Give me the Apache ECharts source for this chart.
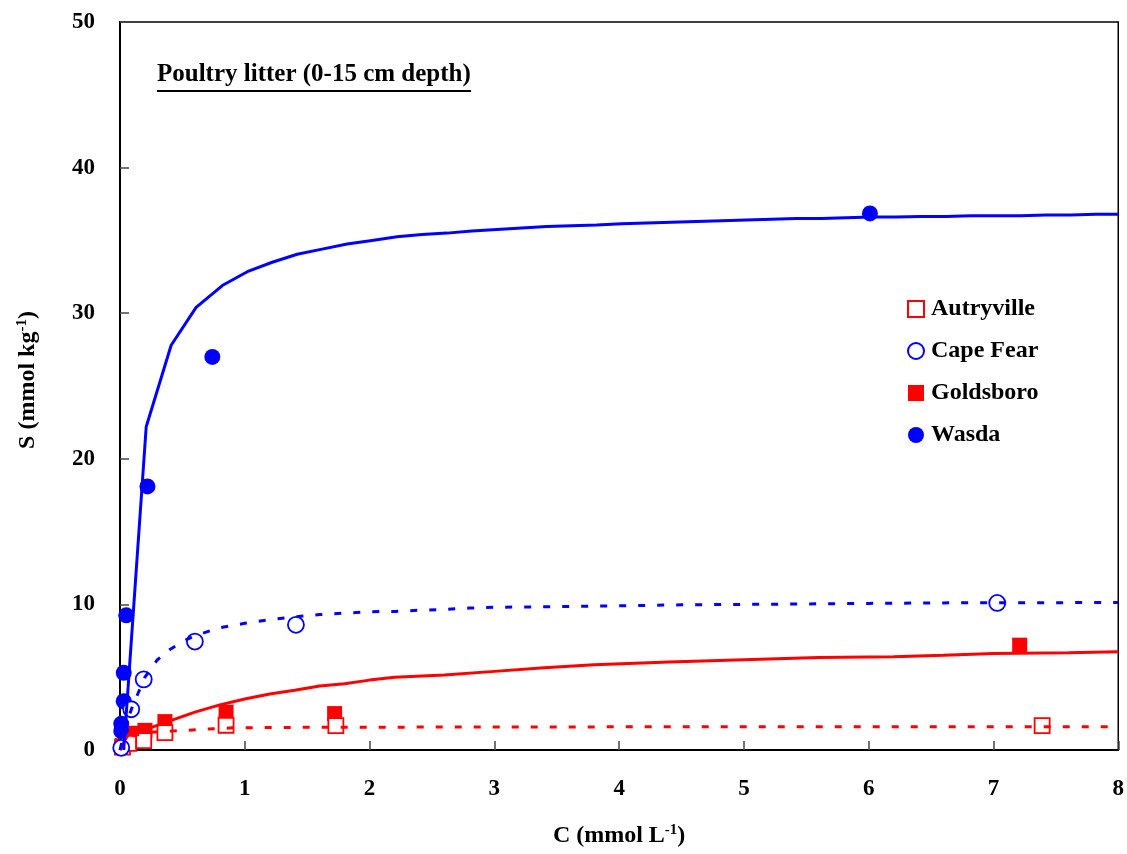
<!DOCTYPE html>
<html>
<head>
<meta charset="utf-8">
<script src="https://cdn.jsdelivr.net/npm/echarts@6/dist/echarts.min.js"></script>
<style>html,body{margin:0;padding:0;background:#fff}#c{width:1127px;height:854px}</style>
</head>
<body>
<div id="c"></div>
<script>
// Observed points [C, S]
const autryvillePts = [[0.02,0.2],[0.07,0.45],[0.19,0.65],[0.36,1.2],[0.85,1.7],[1.73,1.67],[7.39,1.67]];
const capeFearPts = [[0.01,0.15],[0.09,2.8],[0.19,4.85],[0.6,7.45],[1.41,8.6],[7.03,10.1]];
const goldsboroPts = [[0.02,0.3],[0.05,0.7],[0.12,1.15],[0.2,1.35],[0.36,1.95],[0.85,2.6],[1.72,2.5],[7.21,7.2]];
const wasdaPts = [[0.01,1.3],[0.01,1.8],[0.03,3.35],[0.03,5.3],[0.05,9.25],[0.22,18.1],[0.74,27.0],[6.01,36.85]];

// Fitted curves [C, S]
const autryvilleFit = [[0,0],[0.04,0.6],[0.1,0.95],[0.2,1.2],[0.35,1.28],[0.5,1.33],[0.65,1.42],[0.9,1.52],[1.5,1.56],[3,1.58],[5,1.6],[8,1.6]];
const capeFearFit = [[0,0],[0.05,1.8],[0.1,3.0],[0.15,4.0],[0.2,5.0],[0.3,6.2],[0.4,6.9],[0.5,7.45],[0.6,7.85],[0.8,8.4],[1.0,8.7],[1.2,8.95],[1.4,9.15],[1.6,9.3],[1.8,9.4],[2.0,9.5],[2.2,9.52],[2.4,9.6],[2.6,9.65],[2.8,9.75],[3.0,9.8],[3.5,9.85],[4.0,9.9],[4.5,9.97],[5.0,10.0],[5.5,10.03],[6.0,10.07],[6.5,10.1],[7.0,10.12],[7.5,10.12],[8.0,10.13]];
const goldsboroFit = [[0,0],[0.04,0.7],[0.08,1.2],[0.27,1.6],[0.4,2.0],[0.6,2.6],[0.8,3.1],[1.0,3.5],[1.2,3.85],[1.4,4.1],[1.6,4.4],[1.8,4.55],[2.0,4.8],[2.2,5.0],[2.6,5.15],[3.0,5.4],[3.4,5.65],[3.8,5.85],[4.4,6.05],[5.0,6.2],[5.6,6.35],[6.2,6.4],[6.6,6.5],[7.0,6.62],[7.6,6.68],[8.0,6.75]];
const wasdaFit = [[0.03,0],[0.21,22.2],[0.41,27.8],[0.61,30.4],[0.82,31.9],[1.02,32.85],[1.22,33.5],[1.42,34.05],[1.62,34.4],[1.82,34.75],[2.02,35.0],[2.22,35.25],[2.42,35.4],[2.62,35.5],[2.82,35.65],[3.02,35.75],[3.22,35.85],[3.42,35.95],[3.62,36.0],[3.82,36.05],[4.02,36.15],[4.22,36.2],[4.42,36.25],[4.62,36.3],[4.82,36.35],[5.02,36.4],[5.22,36.45],[5.42,36.5],[5.62,36.5],[5.82,36.55],[6.02,36.6],[6.22,36.6],[6.42,36.65],[6.62,36.65],[6.82,36.7],[7.02,36.7],[7.22,36.7],[7.42,36.75],[7.62,36.75],[7.82,36.8],[8.0,36.8]];

const seriesNames = ['Autryville','Cape Fear','Goldsboro','Wasda'];
const titleText = 'Poultry litter (0-15 cm depth)';

const FONT = '"Liberation Serif","Times New Roman",serif';
const RED = '#FF0000', BLUE = '#0000FF';

const chart = echarts.init(document.getElementById('c'), null, {renderer:'canvas'});
const tickText = {fontFamily:FONT, fontWeight:'bold', fontSize:23, color:'#000'};
const nameText = {fontFamily:FONT, fontWeight:'bold', fontSize:24, color:'#000'};
const supText = {fontFamily:FONT, fontWeight:'bold', fontSize:15, color:'#000', verticalAlign:'top', padding:[0,0,10,0]};

function fitLine(name, data, color, dashed) {
  return {name:name, type:'line', data:data, symbol:'none', silent:true, z:3,
    lineStyle:{color:color, width:3, type: dashed ? [7,12] : 'solid'}};
}

chart.setOption({
  animation:false,
  backgroundColor:'#fff',
  grid:{left:120, right:7, top:22, bottom:104, show:true, borderColor:'#000', borderWidth:1.5, backgroundColor:'transparent'},
  xAxis:{type:'value', min:0, max:8, interval:1,
    name:'{a|C (mmol L}{s|-1}{a|)}', nameLocation:'middle', nameGap:73,
    nameTextStyle:{rich:{a:nameText, s:supText}},
    axisLine:{lineStyle:{color:'#000', width:2}},
    axisTick:{inside:true, length:9, lineStyle:{color:'#444', width:1.5}},
    axisLabel:Object.assign({margin:28}, tickText),
    splitLine:{show:false}},
  yAxis:{type:'value', min:0, max:50, interval:10,
    name:'{a|S (mmol kg}{s|-1}{a|)}', nameLocation:'middle', nameGap:80, nameRotate:90,
    nameTextStyle:{rich:{a:nameText, s:supText}, padding:[0,0,0,12]},
    axisLine:{lineStyle:{color:'#000', width:2}},
    axisTick:{inside:true, length:9, lineStyle:{color:'#444', width:1.5}},
    axisLabel:Object.assign({margin:25}, tickText),
    splitLine:{show:false}},
  legend:{orient:'vertical', left:907, top:297, padding:0, itemWidth:16, itemHeight:16, itemGap:18,
    data:seriesNames, textStyle:Object.assign({padding:[0,0,0,2]}, nameText), selectedMode:false},
  graphic:[
    {type:'text', left:157, top:62, style:{text:titleText, font:'bold 25px ' + FONT, fill:'#000'}},
    {type:'line', shape:{x1:157, y1:91, x2:471, y2:91}, style:{stroke:'#000', lineWidth:2}}
  ],
  series:[
    {name:'Goldsboro', type:'scatter', data:goldsboroPts, symbol:'rect', symbolSize:15, z:2,
      itemStyle:{color:RED, opacity:1}},
    {name:'Autryville', type:'scatter', data:autryvillePts, symbol:'rect', symbolSize:15, z:2,
      itemStyle:{color:'#fff', borderColor:RED, borderWidth:1.8, opacity:1}},
    {name:'Wasda', type:'scatter', data:wasdaPts, symbol:'circle', symbolSize:16, z:2,
      itemStyle:{color:BLUE, opacity:1}},
    {name:'Cape Fear', type:'scatter', data:capeFearPts, symbol:'circle', symbolSize:16, z:2,
      itemStyle:{color:'#fff', borderColor:BLUE, borderWidth:1.8, opacity:1}},
    fitLine('Autryville fit', autryvilleFit, RED, true),
    fitLine('Goldsboro fit', goldsboroFit, RED, false),
    fitLine('Cape Fear fit', capeFearFit, BLUE, true),
    fitLine('Wasda fit', wasdaFit, BLUE, false)
  ]
});
</script>
</body>
</html>
